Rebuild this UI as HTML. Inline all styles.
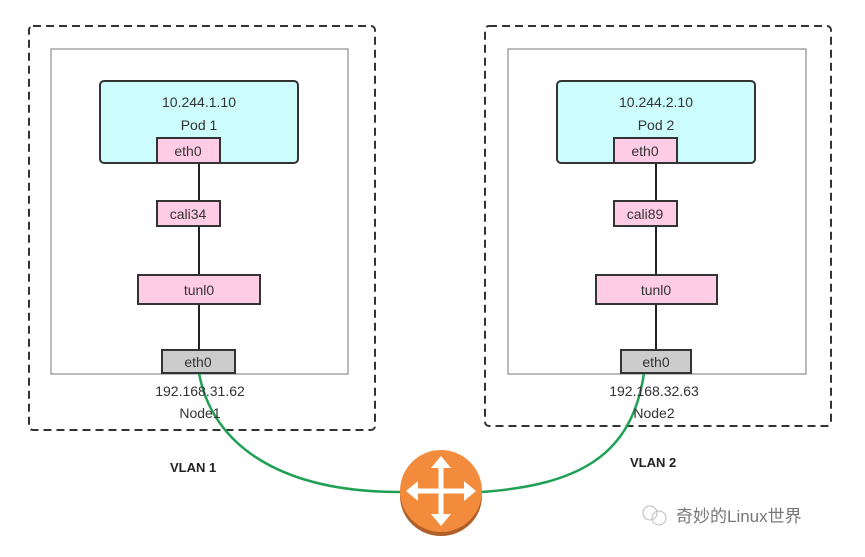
<!DOCTYPE html>
<html><head><style>
body{margin:0;background:#fff;}
svg text{font-family:"Liberation Sans","Noto Sans CJK SC",sans-serif;}
</style></head><body>
<svg width="865" height="552" xmlns="http://www.w3.org/2000/svg">
<g fill="none" stroke="#333" stroke-width="2" stroke-dasharray="8,5">
<rect x="29" y="26" width="346" height="404" rx="4"/>
<rect x="485" y="26" width="346" height="400" rx="4"/>
</g>
<g fill="#fff" stroke="#777" stroke-width="1">
<rect x="51" y="49" width="297" height="325"/>
<rect x="508" y="49" width="298" height="325"/>
</g>
<g stroke="#222" stroke-width="2">
<line x1="199" y1="163" x2="199" y2="350"/>
<line x1="656" y1="163" x2="656" y2="350"/>
</g>
<g fill="none" stroke="#1fa155" stroke-width="2.5">
<path d="M199 373 C212 445 280 492 400 492"/>
<path d="M481 492 C580 485 632 455 644 373"/>
</g>
<g stroke="#333" stroke-width="2">
<rect x="100" y="81" width="198" height="82" rx="4" fill="#ccfcfc"/>
<rect x="557" y="81" width="198" height="82" rx="4" fill="#ccfcfc"/>
<g fill="#ffcce6">
<rect x="157" y="138" width="63" height="25"/>
<rect x="157" y="201" width="63" height="25"/>
<rect x="138" y="275" width="122" height="29"/>
<rect x="614" y="138" width="63" height="25"/>
<rect x="614" y="201" width="63" height="25"/>
<rect x="596" y="275" width="121" height="29"/>
</g>
<g fill="#cccccc">
<rect x="162" y="350" width="73" height="23"/>
<rect x="621" y="350" width="70" height="23"/>
</g>
</g>
<g font-size="14" fill="#333" text-anchor="middle">
<text x="199" y="107">10.244.1.10</text>
<text x="199" y="130">Pod 1</text>
<text x="188" y="156">eth0</text>
<text x="188" y="219">cali34</text>
<text x="199" y="295">tunl0</text>
<text x="198" y="367">eth0</text>
<text x="200" y="396">192.168.31.62</text>
<text x="200" y="418">Node1</text>
<text x="656" y="107">10.244.2.10</text>
<text x="656" y="130">Pod 2</text>
<text x="645" y="156">eth0</text>
<text x="645" y="219">cali89</text>
<text x="656" y="295">tunl0</text>
<text x="656" y="367">eth0</text>
<text x="654" y="396">192.168.32.63</text>
<text x="654" y="418">Node2</text>
</g>
<g font-size="13" font-weight="bold" fill="#222">
<text x="170" y="472">VLAN 1</text>
<text x="630" y="467">VLAN 2</text>
</g>
<ellipse cx="441" cy="496" rx="41" ry="40" fill="#b0602a"/>
<circle cx="441" cy="491" r="41" fill="#f28b3c"/>
<g fill="#fff" stroke="#fff" stroke-width="5">
<line x1="441" y1="463" x2="441" y2="519"/>
<line x1="413" y1="491" x2="469" y2="491"/>
</g>
<g fill="#fff">
<polygon points="441,456 431,468 451,468"/>
<polygon points="441,526 431,514 451,514"/>
<polygon points="406,491 418,481 418,501"/>
<polygon points="476,491 464,481 464,501"/>
</g>
<circle cx="650" cy="513" r="7" fill="none" stroke="#bbb"/>
<circle cx="659" cy="518" r="7" fill="none" stroke="#bbb"/>
<text x="676" y="522" font-size="17" fill="#777">奇妙的Linux世界</text>
</svg>
</body></html>
